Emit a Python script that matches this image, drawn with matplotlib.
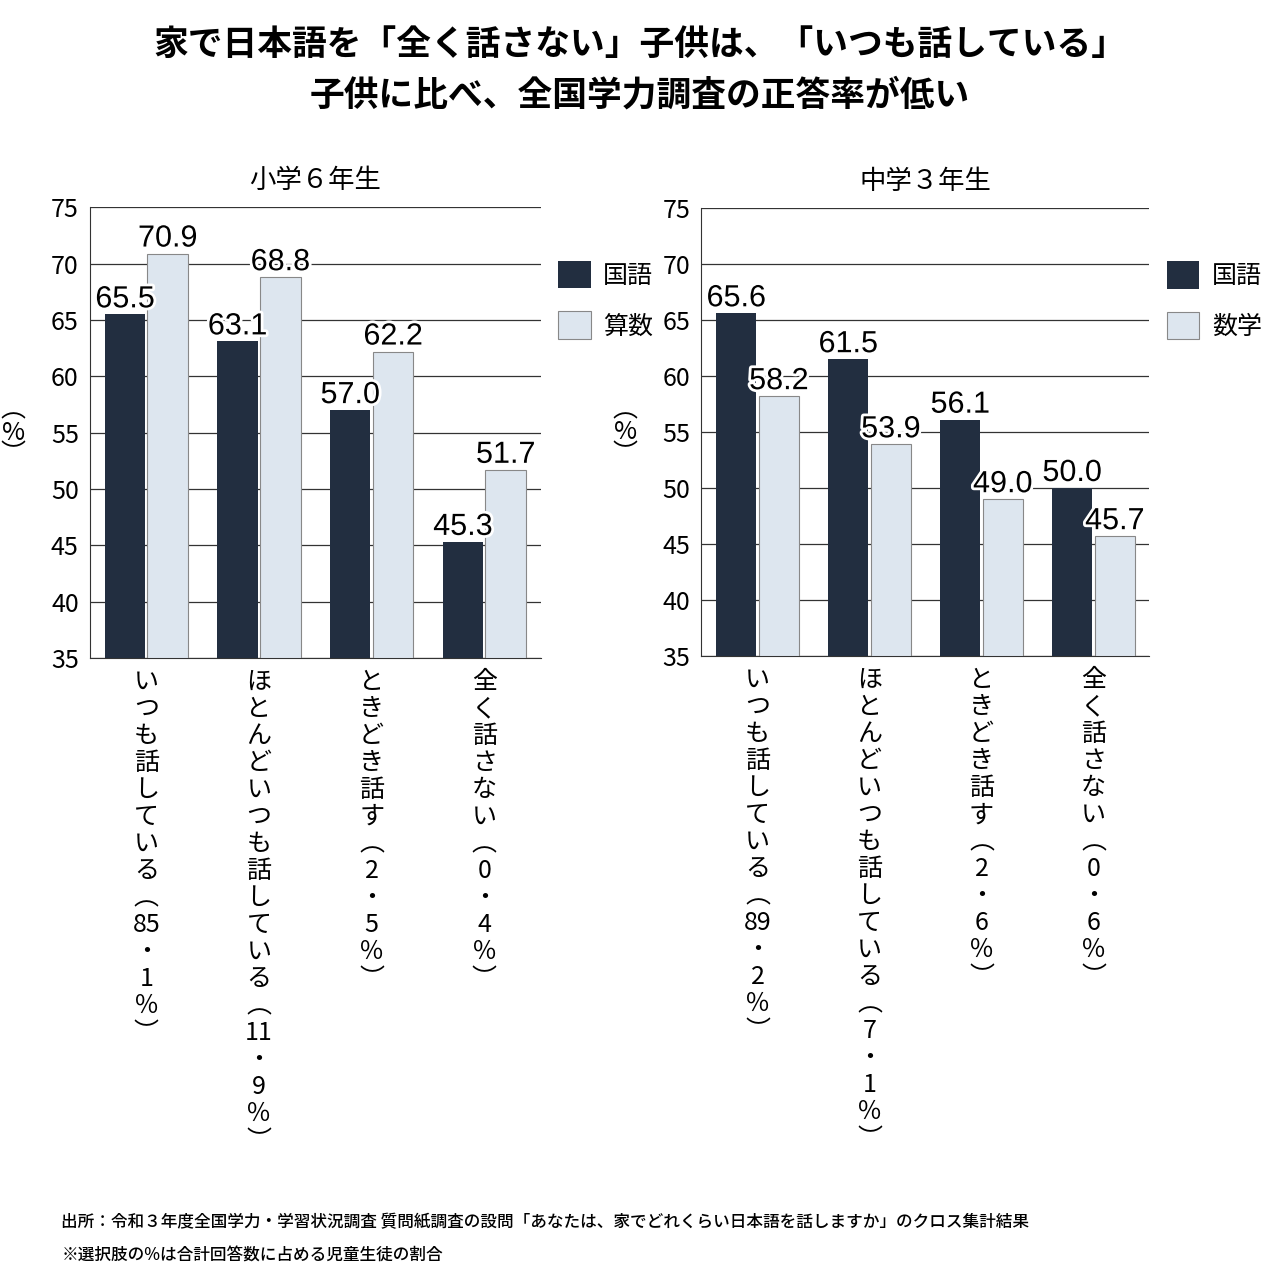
import matplotlib.pyplot as plt
import matplotlib.patheffects as pe
import numpy as np

plt.rcParams['font.family'] = 'Noto Sans CJK JP'

categories_left = [
    ["い", "つ", "も", "話", "し", "て", "い", "る", "︵", "85", "・", "1", "％", "︶"],
    ["ほ", "と", "ん", "ど", "い", "つ", "も", "話", "し", "て", "い", "る", "︵", "11", "・", "9", "％", "︶"],
    ["と", "き", "ど", "き", "話", "す", "︵", "2", "・", "5", "％", "︶"],
    ["全", "く", "話", "さ", "な", "い", "︵", "0", "・", "4", "％", "︶"],
]
categories_right = [
    ["い", "つ", "も", "話", "し", "て", "い", "る", "︵", "89", "・", "2", "％", "︶"],
    ["ほ", "と", "ん", "ど", "い", "つ", "も", "話", "し", "て", "い", "る", "︵", "7", "・", "1", "％", "︶"],
    ["と", "き", "ど", "き", "話", "す", "︵", "2", "・", "6", "％", "︶"],
    ["全", "く", "話", "さ", "な", "い", "︵", "0", "・", "6", "％", "︶"],
]
elem_kokugo = [65.5, 63.1, 57.0, 45.3]
elem_sansu = [70.9, 68.8, 62.2, 51.7]
jr_kokugo = [65.6, 61.5, 56.1, 50.0]
jr_sugaku = [58.2, 53.9, 49.0, 45.7]

DARK = '#222e40'
LIGHT = '#dde6ef'

fig = plt.figure(figsize=(12.8, 12.8), dpi=100)
fig.text(0.5, 0.965, "家で日本語を「全く話さない」子供は、「いつも話している」",
         ha='center', va='center', fontsize=25, fontweight='bold')
fig.text(0.5, 0.926, "子供に比べ、全国学力調査の正答率が低い",
         ha='center', va='center', fontsize=25, fontweight='bold')


def panel(rect, title, cats, s1, s2, names):
    ax = fig.add_axes(rect)
    x = np.arange(len(cats))
    w = 0.36
    b1 = ax.bar(x - 0.19, np.array(s1) - 35, w, bottom=35, color=DARK, zorder=3, label=names[0])
    b2 = ax.bar(x + 0.19, np.array(s2) - 35, w, bottom=35, color=LIGHT, edgecolor='#888888',
                linewidth=0.8, zorder=3, label=names[1])
    for bars, vals in ((b1, s1), (b2, s2)):
        for r, v in zip(bars, vals):
            ax.text(r.get_x() + r.get_width() / 2, v, f"{v:.1f}", ha='center', va='bottom',
                    fontsize=22, fontfamily='Liberation Sans', zorder=5,
                    path_effects=[pe.withStroke(linewidth=4, foreground='white')])
    ax.set_xlim(-0.5, 3.5)
    ax.set_ylim(35, 75)
    ax.set_yticks(range(35, 80, 5))
    ax.tick_params(axis='y', labelsize=18, length=0, pad=8)
    ax.set_xticks(x)
    ax.set_xticklabels(["\n".join(c) for c in cats], fontsize=18, va='top', linespacing=1.05)
    ax.tick_params(axis='x', length=0, pad=8)
    ax.grid(axis='y', color='#333333', linewidth=0.9, zorder=0)
    for s in ('top', 'right'):
        ax.spines[s].set_visible(False)
    ax.spines['left'].set_color('#333333')
    ax.spines['bottom'].set_color('#333333')
    ax.set_title(title, fontsize=19, pad=14)
    ax.text(-0.17, 0.5, "︵\n%\n︶", transform=ax.transAxes, ha='center', va='center',
            fontsize=18, linespacing=0.8)
    ax.legend(loc='upper left', bbox_to_anchor=(1.0, 0.92), frameon=False, fontsize=18,
              handlelength=1.3, handleheight=1.3, labelspacing=0.9, handletextpad=0.5,
              borderaxespad=0.3)
    return ax


panel([0.0703, 0.486, 0.352, 0.352], "小学６年生", categories_left, elem_kokugo, elem_sansu, ["国語", "算数"])
panel([0.548, 0.4875, 0.35, 0.35], "中学３年生", categories_right, jr_kokugo, jr_sugaku, ["国語", "数学"])

fig.text(0.048, 0.045, "出所：令和３年度全国学力・学習状況調査 質問紙調査の設問「あなたは、家でどれくらい日本語を話しますか」のクロス集計結果",
         fontsize=12, va='center', fontweight='medium')
fig.text(0.048, 0.019, "※選択肢の%は合計回答数に占める児童生徒の割合", fontsize=12, va='center',
         fontweight='medium')

fig.savefig("out.png", dpi=100)
